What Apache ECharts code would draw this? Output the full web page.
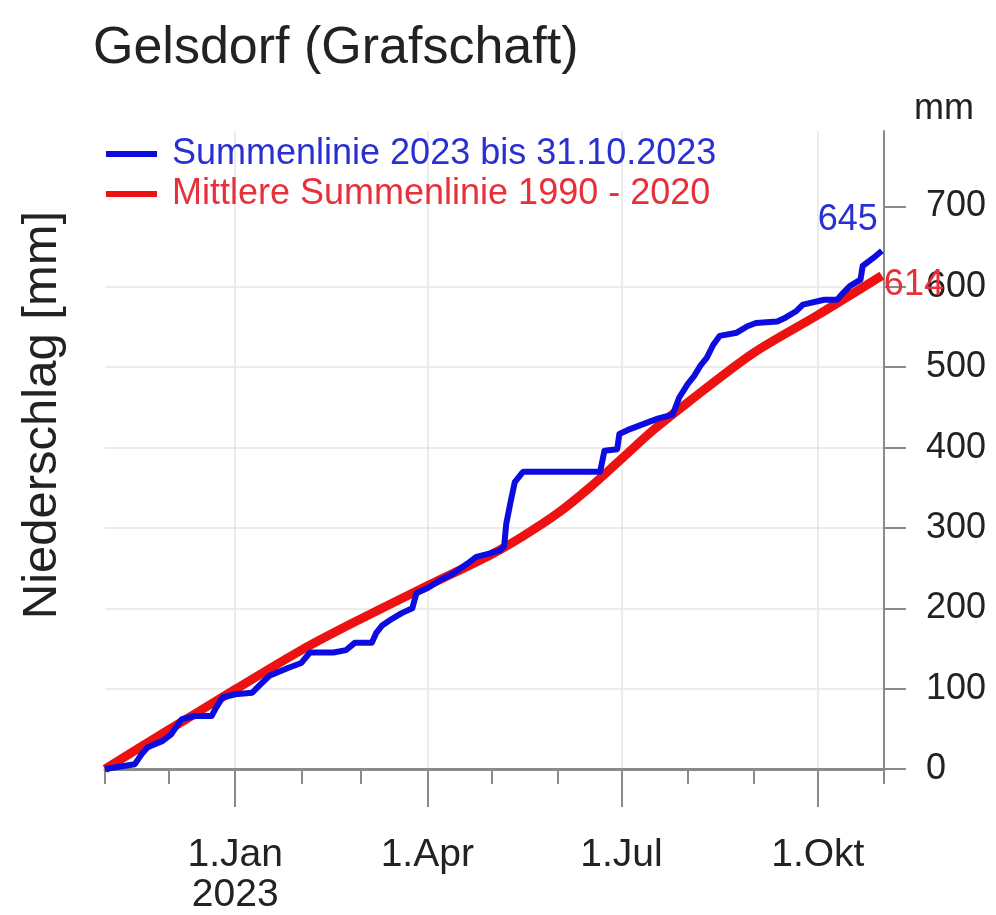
<!DOCTYPE html>
<html><head><meta charset="utf-8">
<script src="https://cdn.jsdelivr.net/npm/echarts@6/dist/echarts.min.js"></script>
<style>html,body{margin:0;padding:0;background:#fff}#c{width:996px;height:915px}</style>
</head><body><div id="c"></div>
<script>
// ---- data ----
const chartTitle = 'Gelsdorf (Grafschaft)';
const yAxisTitle = 'Niederschlag [mm]';
const unitLabel = 'mm';
const seriesNames = ['Summenlinie 2023 bis 31.10.2023', 'Mittlere Summenlinie 1990 - 2020'];
const startDate = '2022-11-01';
const endDate = '2023-11-01';
const sumDates = ['2022-11-01','2022-11-15','2022-11-18','2022-11-21','2022-11-28','2022-12-02','2022-12-05','2022-12-07','2022-12-13','2022-12-21','2022-12-23','2022-12-26','2023-01-01','2023-01-09','2023-01-12','2023-01-17','2023-01-26','2023-02-01','2023-02-05','2023-02-16','2023-02-22','2023-02-26','2023-03-06','2023-03-08','2023-03-11','2023-03-15','2023-03-20','2023-03-25','2023-03-26','2023-03-27','2023-04-01','2023-04-07','2023-04-13','2023-04-20','2023-04-24','2023-04-30','2023-05-05','2023-05-07','2023-05-08','2023-05-10','2023-05-12','2023-05-15','2023-05-16','2023-06-21','2023-06-23','2023-06-29','2023-06-30','2023-07-05','2023-07-13','2023-07-18','2023-07-25','2023-07-28','2023-08-01','2023-08-04','2023-08-07','2023-08-10','2023-08-13','2023-08-16','2023-08-24','2023-08-29','2023-09-02','2023-09-12','2023-09-16','2023-09-21','2023-09-24','2023-10-04','2023-10-10','2023-10-13','2023-10-16','2023-10-21','2023-10-22','2023-10-27','2023-10-31'];
const sumValues = [0,6,18,27,35,43,55,62,66,66,76,89,93,95,103,116,126,132,145,145,148,157,157,169,179,186,194,200,210,219,225,235,243,256,264,268,272,277,305,332,357,367,370,370,396,398,417,423,431,436,441,462,479,489,502,512,528,539,543,551,555,557,562,570,578,584,584,593,601,609,626,636,645];
const meanDates = ['2022-11-01','2022-12-01','2023-01-01','2023-02-01','2023-03-01','2023-04-01','2023-05-01','2023-05-16','2023-06-01','2023-06-16','2023-07-01','2023-07-16','2023-08-01','2023-09-01','2023-10-01','2023-10-31'];
const meanValues = [0,49,99,148,187,228,267,290,318,350,386,422,456,518,565,614];
const quarterLabels = {'2023-01-01':'1.Jan\n2023','2023-04-01':'1.Apr','2023-07-01':'1.Jul','2023-10-01':'1.Okt'};
const yTickValues = [0,100,200,300,400,500,600,700];
const yMax = 794;

// ---- helpers ----
const DAY = 86400000;
const t0 = Date.parse(startDate + 'T00:00:00Z');
const dayIdx = d => Math.round((Date.parse(d + 'T00:00:00Z') - t0) / DAY);
const nDays = dayIdx(endDate);
const dayLabels = [];
for (let i = 0; i <= nDays; i++) dayLabels.push(new Date(t0 + i * DAY).toISOString().slice(0, 10));
const isMonthStart = i => dayLabels[i].slice(8, 10) === '01';
const isQuarter = i => quarterLabels[dayLabels[i]] !== undefined;

const FONT = 'Liberation Sans, Arial, Helvetica, sans-serif';
const AX = '#8a8a8a';
const TXT = '#222';
const BLUE = '#0c0ce0';
const RED = '#ee1111';
const BLUE_TXT = '#2a30d0';
const RED_TXT = '#e8303a';

const sumData = sumDates.map((d, i) => [dayIdx(d), sumValues[i]]);
const meanData = meanDates.map((d, i) => [dayIdx(d), meanValues[i]]);

const chart = echarts.init(document.getElementById('c'), null, {renderer: 'canvas'});
chart.setOption({
  animation: false,
  backgroundColor: '#fff',
  textStyle: {fontFamily: FONT},
  title: {text: chartTitle, left: 88, top: 18, textStyle: {fontSize: 52, fontWeight: 'normal', color: TXT, fontFamily: FONT}},
  legend: {
    orient: 'vertical', left: 101, top: 131, itemWidth: 51, itemHeight: 6, itemGap: 4, icon: 'rect',
    textStyle: {fontSize: 36, lineHeight: 36, fontFamily: FONT, padding: [0, 0, 0, 10]},
    data: [{name: seriesNames[0], textStyle: {color: BLUE_TXT}}, {name: seriesNames[1], textStyle: {color: RED_TXT}}]
  },
  grid: {left: 105, right: 112, top: 131, bottom: 143.5},
  xAxis: [
    {type: 'value', min: 0, max: nDays, show: false, position: 'bottom'},
    {type: 'category', data: dayLabels, boundaryGap: false, position: 'bottom',
      axisLine: {show: true, onZero: false, lineStyle: {color: AX, width: 3}},
      axisTick: {show: true, interval: i => isMonthStart(i) && !isQuarter(i), length: 15, lineStyle: {color: AX, width: 2}},
      axisLabel: {show: false}, splitLine: {show: false}},
    {type: 'category', data: dayLabels, boundaryGap: false, position: 'bottom',
      axisLine: {show: false, onZero: false},
      axisTick: {show: true, interval: i => isQuarter(i), length: 38, lineStyle: {color: AX, width: 2}},
      axisLabel: {show: true, interval: i => isQuarter(i), formatter: v => quarterLabels[v] || '', margin: 66, fontSize: 39, lineHeight: 40, color: TXT, fontFamily: FONT},
      splitLine: {show: true, interval: i => isQuarter(i), lineStyle: {color: '#e6e6e6', width: 1.5}}}
  ],
  yAxis: {
    type: 'value', position: 'right', min: 0, max: yMax,
    name: unitLabel, nameLocation: 'end', nameGap: 22,
    nameTextStyle: {fontSize: 36, color: TXT, fontFamily: FONT, align: 'left', verticalAlign: 'middle', padding: [0, 0, 0, 30]},
    axisLine: {show: true, onZero: false, lineStyle: {color: AX, width: 2}},
    axisTick: {show: true, customValues: yTickValues, length: 22, lineStyle: {color: AX, width: 2}},
    axisLabel: {show: true, customValues: yTickValues, margin: 42, fontSize: 36, color: TXT, fontFamily: FONT},
    splitLine: {show: true, showMinLine: false, showMaxLine: false, lineStyle: {color: '#e6e6e6', width: 1.5}}
  },
  graphic: [{type: 'text', x: 42, y: 415, rotation: Math.PI / 2,
    style: {text: yAxisTitle, fontSize: 49, fill: TXT, fontFamily: FONT, align: 'center', verticalAlign: 'middle'}}],
  series: [
    {name: seriesNames[1], type: 'line', xAxisIndex: 0, data: meanData, smooth: 0.3, symbol: 'none', z: 2,
      color: RED, lineStyle: {color: RED, width: 9},
      endLabel: {show: true, formatter: p => String(p.value[1]), fontSize: 36, fontFamily: FONT, color: RED_TXT,
        align: 'left', verticalAlign: 'middle', distance: 2, offset: [0, 9]}},
    {name: seriesNames[0], type: 'line', xAxisIndex: 0, data: sumData, symbol: 'none', z: 3,
      color: BLUE, lineStyle: {color: BLUE, width: 6, join: 'round'},
      endLabel: {show: true, formatter: p => String(p.value[1]), fontSize: 36, fontFamily: FONT, color: BLUE_TXT,
        align: 'right', verticalAlign: 'bottom', distance: 0, offset: [-4, -13]}}
  ]
});
</script></body></html>
